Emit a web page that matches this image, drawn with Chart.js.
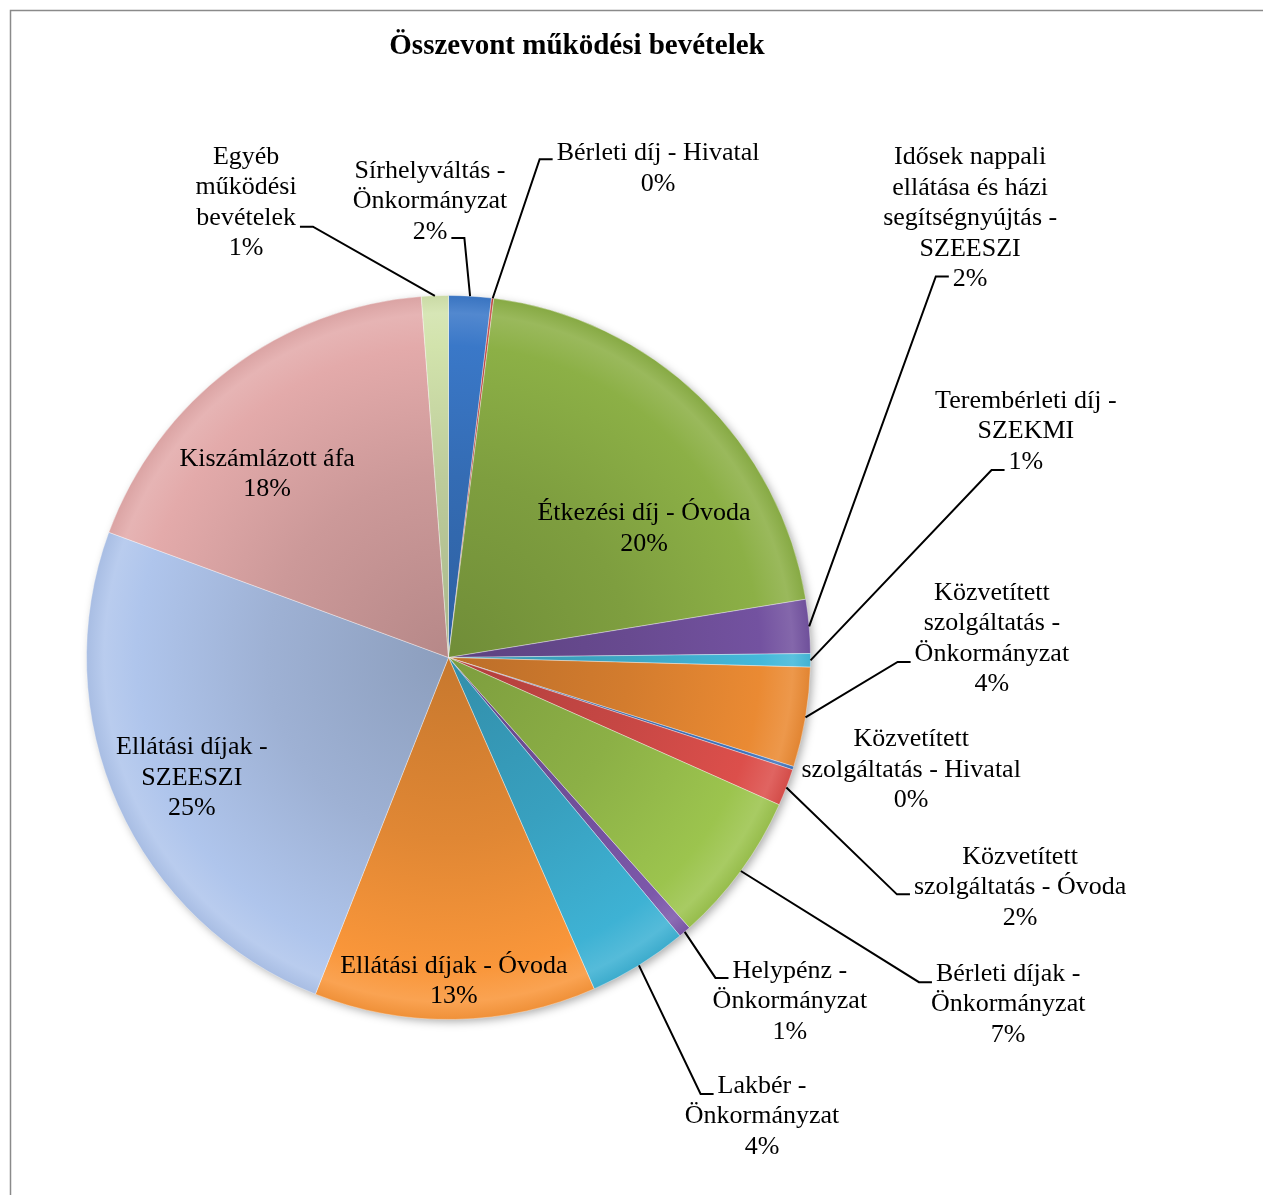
<!DOCTYPE html>
<html lang="hu">
<head>
<meta charset="utf-8">
<title>Összevont működési bevételek</title>
<script src="https://cdn.jsdelivr.net/npm/chart.js@4.4.1/dist/chart.umd.min.js"></script>
<style>
  html, body { margin: 0; padding: 0; background: #fff; }
  #wrap { width: 1263px; height: 1195px; }
</style>
</head>
<body>
<div id="wrap"><canvas id="pie" width="1263" height="1195"></canvas></div>
<script>
const TITLE = 'Összevont működési bevételek';

// slices, clockwise from 12 o'clock
const categories = [
  'Sírhelyváltás - Önkormányzat',
  'Bérleti díj - Hivatal',
  'Étkezési díj - Óvoda',
  'Idősek nappali ellátása és házi segítségnyújtás - SZEESZI',
  'Terembérleti díj - SZEKMI',
  'Közvetített szolgáltatás - Önkormányzat',
  'Közvetített szolgáltatás - Hivatal',
  'Közvetített szolgáltatás - Óvoda',
  'Bérleti díjak - Önkormányzat',
  'Helypénz - Önkormányzat',
  'Lakbér - Önkormányzat',
  'Ellátási díjak - Óvoda',
  'Ellátási díjak - SZEESZI',
  'Kiszámlázott áfa',
  'Egyéb működési bevételek'
];

// share of total, percent
const shares = [1.9, 0.1, 20.45, 2.4, 0.6, 4.45, 0.15, 1.65, 6.75, 0.55, 4.45, 12.6, 24.65, 18.2, 1.2];

const sliceColors = [
  '#3A78C8', '#C0403C', '#8CB046', '#7352A0', '#44B8DA',
  '#EA8A33', '#3F73BC', '#DC4F4B', '#9CC44E', '#7C58AA',
  '#3EB2D4', '#F9963A', '#AFC5EC', '#E3AAAA', '#D2E3AC'
];

// label block centre relative to pie centre (radius units), wrap width (px),
// leader: [line index, side of text, y offset] or null
const labelLayout = [
  { pos: [-0.051, -1.260], wrap: 160, lead: [2, 'r', 6] },
  { pos: [0.579, -1.351], wrap: 220, lead: [0, 'l', 6] },
  { pos: [0.540, -0.356], wrap: 240, lead: null },
  { pos: [1.441, -1.213], wrap: 180, lead: [4, 'l', -3] },
  { pos: [1.595, -0.624], wrap: 190, lead: [2, 'l', 8] },
  { pos: [1.501, -0.052], wrap: 160, lead: [2, 'l', 8] },
  { pos: [1.278, 0.311], wrap: 230, lead: null },
  { pos: [1.579, 0.635], wrap: 225, lead: [1, 'l', 7] },
  { pos: [1.546, 0.959], wrap: 160, lead: [0, 'l', 8] },
  { pos: [0.943, 0.950], wrap: 160, lead: [0, 'l', 7] },
  { pos: [0.866, 1.268], wrap: 160, lead: [0, 'l', 8] },
  { pos: [0.015, 0.894], wrap: 240, lead: null },
  { pos: [-0.709, 0.333], wrap: 170, lead: null },
  { pos: [-0.501, -0.506], wrap: 200, lead: null },
  { pos: [-0.559, -1.257], wrap: 120, lead: [2, 'r', 9] }
];

const FONT = '"Liberation Serif", "Times New Roman", serif';
const LABEL_PX = 26;
const LINE_H = 30.5;

function mix(hex, t) {
  // t < 0 darkens towards black, t > 0 lightens towards white
  const n = parseInt(hex.slice(1), 16);
  let c = [(n >> 16) & 255, (n >> 8) & 255, n & 255];
  c = c.map(v => Math.round(t < 0 ? v * (1 + t) : v + (255 - v) * t));
  return `rgb(${c[0]},${c[1]},${c[2]})`;
}

function sliceFill(context) {
  const chart = context.chart;
  const area = chart.chartArea;
  const base = sliceColors[context.dataIndex];
  if (!area) return base;
  const cx = (area.left + area.right) / 2;
  const cy = (area.top + area.bottom) / 2;
  const r = Math.min(area.right - area.left, area.bottom - area.top) / 2;
  const g = chart.ctx.createRadialGradient(cx, cy, 0, cx, cy, r);
  g.addColorStop(0, mix(base, -0.2));
  g.addColorStop(0.5, mix(base, -0.1));
  g.addColorStop(0.86, base);
  g.addColorStop(0.95, mix(base, 0.12));
  g.addColorStop(1, mix(base, -0.04));
  return g;
}

function wrapWords(ctx, text, maxW) {
  const words = text.split(' ');
  const lines = [];
  let cur = '';
  words.forEach(w => {
    const t = cur ? cur + ' ' + w : w;
    if (cur && ctx.measureText(t).width > maxW) {
      lines.push(cur);
      cur = w;
    } else {
      cur = t;
    }
  });
  if (cur) lines.push(cur);
  return lines;
}

const frame = {
  id: 'frame',
  beforeDraw(chart) {
    const ctx = chart.ctx;
    ctx.save();
    ctx.fillStyle = '#fff';
    ctx.fillRect(0, 0, chart.width, chart.height);
    ctx.strokeStyle = '#8a8a8a';
    ctx.lineWidth = 1.5;
    ctx.strokeRect(10.5, 10.5, chart.width + 20, chart.height + 20);
    ctx.font = `bold 29px ${FONT}`;
    ctx.fillStyle = '#000';
    ctx.textAlign = 'center';
    ctx.textBaseline = 'middle';
    ctx.fillText(TITLE, 577, 47);
    ctx.restore();
  },
  beforeDatasetsDraw(chart) {
    // soft shadow under the pie
    const arc = chart.getDatasetMeta(0).data[0];
    if (!arc) return;
    const ctx = chart.ctx;
    ctx.save();
    ctx.shadowColor = 'rgba(0,0,0,0.35)';
    ctx.shadowBlur = 10;
    ctx.shadowOffsetX = 3;
    ctx.shadowOffsetY = 3;
    ctx.fillStyle = '#fff';
    ctx.beginPath();
    ctx.arc(arc.x, arc.y, arc.outerRadius - 1, 0, Math.PI * 2);
    ctx.fill();
    ctx.restore();
  }
};

const pieLabels = {
  id: 'pieLabels',
  afterDatasetsDraw(chart) {
    const ctx = chart.ctx;
    const meta = chart.getDatasetMeta(0);
    const total = shares.reduce((a, b) => a + b, 0);
    ctx.save();
    ctx.font = `${LABEL_PX}px ${FONT}`;
    ctx.fillStyle = '#000';
    ctx.strokeStyle = '#000';
    ctx.lineWidth = 2;
    ctx.textAlign = 'center';
    ctx.textBaseline = 'middle';
    meta.data.forEach((arc, i) => {
      const lay = labelLayout[i];
      const r = arc.outerRadius;
      const lines = wrapWords(ctx, categories[i], lay.wrap);
      lines.push(Math.round(shares[i] / total * 100) + '%');
      const cx = arc.x + lay.pos[0] * r;
      const top = arc.y + lay.pos[1] * r - (lines.length - 1) * LINE_H / 2;
      lines.forEach((ln, k) => ctx.fillText(ln, cx, top + k * LINE_H));

      if (lay.lead) {
        const [k, side, dy] = lay.lead;
        const w = ctx.measureText(lines[k]).width;
        const ly = top + k * LINE_H + dy;
        const sx = side === 'r' ? cx + w / 2 + 4 : cx - w / 2 - 4;
        const ex = side === 'r' ? sx + 13 : sx - 13;
        const mid = (arc.startAngle + arc.endAngle) / 2;
        ctx.beginPath();
        ctx.moveTo(sx, ly);
        ctx.lineTo(ex, ly);
        ctx.lineTo(arc.x + Math.cos(mid) * r, arc.y + Math.sin(mid) * r);
        ctx.stroke();
      }
    });
    ctx.restore();
  }
};

new Chart(document.getElementById('pie'), {
  type: 'pie',
  data: {
    labels: categories,
    datasets: [{
      data: shares,
      backgroundColor: sliceFill,
      borderColor: 'rgba(255,255,255,0.35)',
      borderWidth: 1
    }]
  },
  options: {
    responsive: false,
    animation: false,
    layout: {
      padding: { left: 86, right: 452, top: 295, bottom: 175 }
    },
    plugins: {
      legend: { display: false },
      tooltip: { enabled: false },
      title: { display: false }
    }
  },
  plugins: [frame, pieLabels]
});
</script>
</body>
</html>
